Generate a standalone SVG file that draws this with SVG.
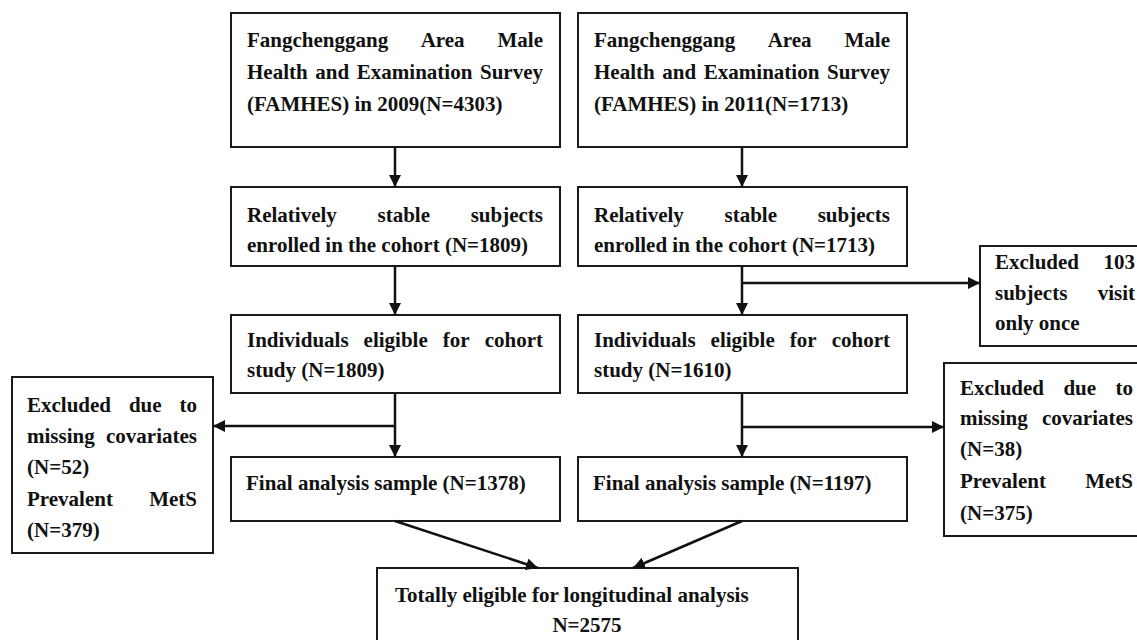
<svg xmlns="http://www.w3.org/2000/svg" width="1137" height="640" viewBox="0 0 1137 640">
<style>
.box{fill:#fff;stroke:#1a1a1a;stroke-width:2}
.t{font-family:"Liberation Serif","Times New Roman",serif;font-weight:bold;font-size:21px;fill:#111}
.e{text-anchor:end}
.m{text-anchor:middle}
.c{fill:none;stroke:#111;stroke-width:2.5}
</style>
<defs>
<marker id="ah" viewBox="0 0 12 12" refX="12" refY="6" markerWidth="12" markerHeight="12" markerUnits="userSpaceOnUse" orient="auto">
<path d="M0,0 L12,6 L0,12 Z" fill="#111"/>
</marker>
</defs>
<rect width="1137" height="640" fill="#fff"/>
<g id="n2009">
<rect class="box" x="231" y="13" width="329" height="134"/>
<text class="t" x="247" y="47">Fangchenggang</text><text class="t" x="420.7" y="47">Area</text><text class="t e" x="543" y="47">Male</text>
<text class="t" x="247" y="79">Health</text><text class="t" x="315.3" y="79">and</text><text class="t" x="356.8" y="79">Examination</text><text class="t e" x="543" y="79">Survey</text>
<text class="t" x="247" y="111">(FAMHES) in 2009(N=4303)</text>
</g>
<g id="n2011">
<rect class="box" x="578" y="13" width="329" height="134"/>
<text class="t" x="594" y="47">Fangchenggang</text><text class="t" x="767.7" y="47">Area</text><text class="t e" x="890" y="47">Male</text>
<text class="t" x="594" y="79">Health</text><text class="t" x="662.3" y="79">and</text><text class="t" x="703.8" y="79">Examination</text><text class="t e" x="890" y="79">Survey</text>
<text class="t" x="594" y="111">(FAMHES) in 2011(N=1713)</text>
</g>
<g id="stableL">
<rect class="box" x="231" y="187" width="329" height="79"/>
<text class="t" x="247" y="222">Relatively</text><text class="t" x="377.5" y="222">stable</text><text class="t e" x="543" y="222">subjects</text>
<text class="t" x="247" y="252">enrolled in the cohort (N=1809)</text>
</g>
<g id="stableR">
<rect class="box" x="578" y="187" width="329" height="79"/>
<text class="t" x="594" y="222">Relatively</text><text class="t" x="724.5" y="222">stable</text><text class="t e" x="890" y="222">subjects</text>
<text class="t" x="594" y="252">enrolled in the cohort (N=1713)</text>
</g>
<g id="eligL">
<rect class="box" x="231" y="315" width="329" height="78"/>
<text class="t" x="247" y="347">Individuals</text><text class="t" x="363.6" y="347">eligible</text><text class="t" x="442.8" y="347">for</text><text class="t e" x="543" y="347">cohort</text>
<text class="t" x="247" y="377">study (N=1809)</text>
</g>
<g id="eligR">
<rect class="box" x="578" y="315" width="329" height="78"/>
<text class="t" x="594" y="347">Individuals</text><text class="t" x="710.6" y="347">eligible</text><text class="t" x="789.8" y="347">for</text><text class="t e" x="890" y="347">cohort</text>
<text class="t" x="594" y="377">study (N=1610)</text>
</g>
<g id="finalL">
<rect class="box" x="231" y="457" width="329" height="64"/>
<text class="t" x="246" y="490">Final analysis sample (N=1378)</text>
</g>
<g id="finalR">
<rect class="box" x="578" y="457" width="329" height="64"/>
<text class="t" x="593" y="490">Final analysis sample (N=1197)</text>
</g>
<g id="exclL">
<rect class="box" x="12" y="377" width="201" height="176"/>
<text class="t" x="27" y="412">Excluded</text><text class="t" x="128.9" y="412">due</text><text class="t e" x="197" y="412">to</text>
<text class="t" x="27" y="443">missing</text><text class="t e" x="197" y="443">covariates</text>
<text class="t" x="27" y="474">(N=52)</text>
<text class="t" x="27" y="506">Prevalent</text><text class="t e" x="197" y="506">MetS</text>
<text class="t" x="27" y="537">(N=379)</text>
</g>
<g id="excl103">
<rect class="box" x="980" y="246" width="170" height="100"/>
<text class="t" x="995" y="269">Excluded</text><text class="t e" x="1135" y="269">103</text>
<text class="t" x="995" y="300">subjects</text><text class="t e" x="1135" y="300">visit</text>
<text class="t" x="995" y="330">only once</text>
</g>
<g id="exclR">
<rect class="box" x="944" y="363" width="210" height="173"/>
<text class="t" x="960" y="395">Excluded</text><text class="t" x="1063.4" y="395">due</text><text class="t e" x="1133" y="395">to</text>
<text class="t" x="960" y="425">missing</text><text class="t e" x="1133" y="425">covariates</text>
<text class="t" x="960" y="456">(N=38)</text>
<text class="t" x="960" y="488">Prevalent</text><text class="t e" x="1133" y="488">MetS</text>
<text class="t" x="960" y="520">(N=375)</text>
</g>
<g id="total">
<rect class="box" x="377" y="568" width="421" height="90"/>
<text class="t" x="395" y="602">Totally eligible for longitudinal analysis</text>
<text class="t m" x="587" y="632">N=2575</text>
</g>
<g id="connectors">
<path class="c" d="M395,147 V187" marker-end="url(#ah)"/>
<path class="c" d="M395,266 V315" marker-end="url(#ah)"/>
<path class="c" d="M395,393 V457" marker-end="url(#ah)"/>
<path class="c" d="M395,426 H213" marker-end="url(#ah)"/>
<path class="c" d="M742,147 V187" marker-end="url(#ah)"/>
<path class="c" d="M742,266 V315" marker-end="url(#ah)"/>
<path class="c" d="M742,283 H980" marker-end="url(#ah)"/>
<path class="c" d="M742,393 V457" marker-end="url(#ah)"/>
<path class="c" d="M742,427 H944" marker-end="url(#ah)"/>
<path class="c" d="M395,521 L538,568" marker-end="url(#ah)"/>
<path class="c" d="M742,521 L633,568" marker-end="url(#ah)"/>
</g>
</svg>
